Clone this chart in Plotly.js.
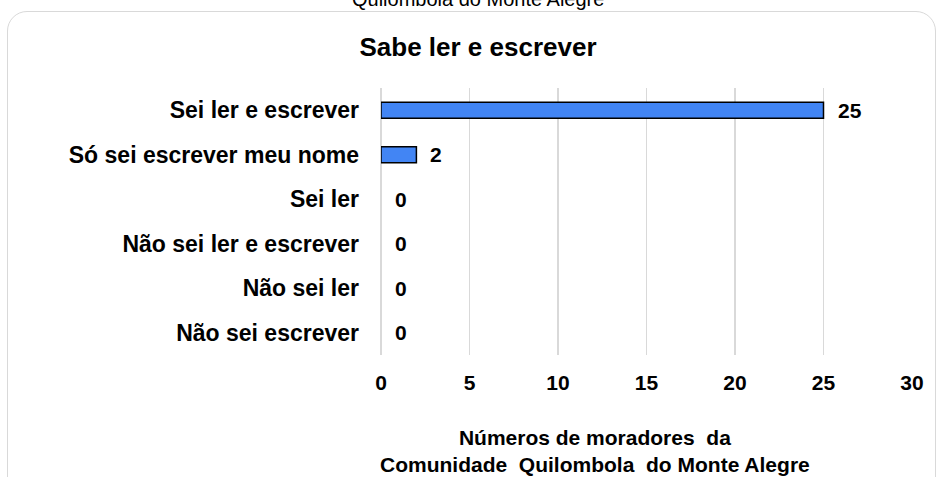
<!DOCTYPE html>
<html>
<head>
<meta charset="utf-8">
<script src="https://cdn.plot.ly/plotly-3.0.1.min.js"></script>
<style>
    html, body { margin: 0; padding: 0; background: #fff; overflow: hidden; }
    #frame {
        position: absolute; left: 7px; top: 11px; width: 929px; height: 500px;
        border: 1.5px solid #d9d9d9; border-radius: 20px; box-sizing: border-box;
    }
    #chart { position: absolute; left: 0; top: 0; width: 940px; height: 477px; }
</style>
</head>
<body>
<div id="frame"></div>
<div id="chart"></div>
<script>
// categories, top to bottom
const categories = [
    'Sei ler e escrever',
    'Só sei escrever meu nome',
    'Sei ler',
    'Não sei ler e escrever',
    'Não sei ler',
    'Não sei escrever'
];
const moradores = [25, 2, 0, 0, 0, 0];
const xTicks = [0, 5, 10, 15, 20, 25, 30];

const chartTitle = 'Sabe ler e escrever';
const axisTitle = 'Números de moradores  da<br>Comunidade  Quilombola  do Monte Alegre';
const topCaption = 'Quilombola do Monte Alegre';

const font = 'Liberation Sans, Arial, sans-serif';

const bars = {
    type: 'bar',
    orientation: 'h',
    x: moradores,
    y: categories,
    marker: {
        color: '#4285f4',
        // no outline on empty bars
        line: { color: '#000', width: moradores.map(v => v > 0 ? 1.5 : 0) }
    },
    hoverinfo: 'x+y'
};

// value labels next to the bars
const valueLabels = moradores.map((v, i) => ({
    x: v,
    y: categories[i],
    xref: 'x',
    yref: 'y',
    text: String(v),
    showarrow: false,
    xanchor: 'left',
    xshift: 12,
    font: { family: font, size: 21, color: '#000', weight: 'bold' }
}));

const layout = {
    width: 940,
    height: 477,
    margin: { l: 381, r: 28, t: 88, b: 122 },
    paper_bgcolor: 'rgba(0,0,0,0)',
    plot_bgcolor: 'rgba(0,0,0,0)',
    showlegend: false,
    bargap: 0.64,
    title: {
        text: chartTitle,
        font: { family: font, size: 26, color: '#000', weight: 'bold' },
        x: 478 / 940,
        xref: 'container',
        xanchor: 'center',
        y: 1 - 47 / 477,
        yref: 'container',
        yanchor: 'middle'
    },
    xaxis: {
        range: [0, 30],
        tickvals: xTicks,
        showgrid: true,
        gridcolor: '#d9d9d9',
        gridwidth: 1.5,
        zeroline: true,
        zerolinecolor: '#d9d9d9',
        zerolinewidth: 1.5,
        showline: false,
        ticks: '',
        ticklabelstandoff: 13,
        tickfont: { family: font, size: 21, color: '#000', weight: 'bold' },
        fixedrange: true
    },
    yaxis: {
        type: 'category',
        autorange: 'reversed',
        showgrid: false,
        zeroline: false,
        showline: false,
        ticks: '',
        ticklabelstandoff: 21,
        tickfont: { family: font, size: 23, color: '#000', weight: 'bold' },
        fixedrange: true
    },
    annotations: valueLabels.concat([
        {
            text: axisTitle,
            xref: 'paper', yref: 'paper',
            x: (595 - 381) / 531, y: 0,
            xanchor: 'center', yanchor: 'top',
            yshift: -69,
            showarrow: false,
            font: { family: font, size: 21, color: '#000', weight: 'bold' }
        },
        {
            text: topCaption,
            xref: 'paper', yref: 'paper',
            x: (478 - 381) / 531, y: 1,
            xanchor: 'center', yanchor: 'bottom',
            yshift: 76,
            showarrow: false,
            font: { family: font, size: 20, color: '#000' }
        }
    ])
};

Plotly.newPlot('chart', [bars], layout, { displayModeBar: false, staticPlot: true });
</script>
</body>
</html>
